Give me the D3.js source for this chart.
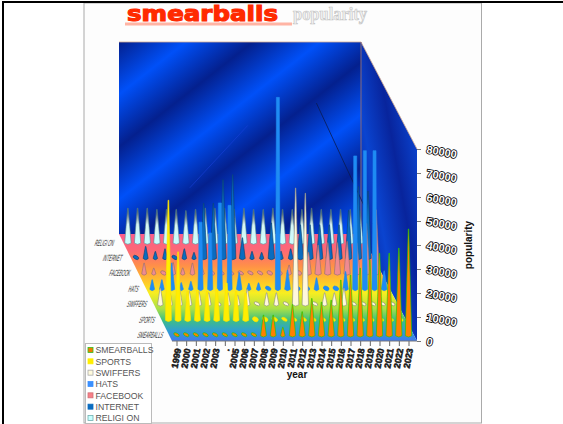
<!DOCTYPE html>
<html>
<head>
<meta charset="utf-8">
<script src="https://cdnjs.cloudflare.com/ajax/libs/d3/7.8.5/d3.min.js"></script>
<style>
  html, body { margin: 0; padding: 0; background: #fff; }
  svg { display: block; font-family: "Liberation Sans", sans-serif; }
</style>
</head>
<body>
<svg width="563" height="424"></svg>
<script>
var width = 563;
var height = 424;

// values
var years = d3.range(1999, 2024);
var yearLabels = ['1999', '2000', '2001', '2002', '2003', '.', '2005', '2006', '2007', '2008', '2009', '2010', '2011', '2012', '2013', '2014', '2015', '2016', '2017', '2018', '2019', '2020', '2021', '2022', '2023'];
var valueTicks = [0, 10000, 20000, 30000, 40000, 50000, 60000, 70000, 80000];

var smearballs = [1500, 1500, 1500, 1500, 1500, 1500, 1500, 1500, 1500, 8600, 8600, 3500, 13000, 10000, 15500, 14000, 14800, 23200, 25300, 28200, 31500, 34400, 34400, 36500, 44500];
var sports = [50000, 28500, 12000, 12500, 12000, 13000, 15500, 12000, 11300, 2200, 2000, 1800, 1500, 1000, 900, 900, 800, 800, 800, 800, 800, 800, 800, 800, 800];
var swiffers = [7000, 5000, 6500, 5500, 5500, 5000, 1500, 5000, 4000, 6500, 1200, 5000, 5000, 1500, 48700, 46500, 1500, 5000, 5000, 7000, 1500, 1300, 1300, 1300, 1200];
var hats = [4000, 4000, 11000, 2800, 3300, 28000, 23500, 36000, 35000, 7000, 2500, 2700, 1800, 80000, 8000, 2200, 2000, 4800, 2000, 2000, 7400, 55600, 57800, 57800, 7700];
var facebook = [4500, 2400, 1800, 4700, 2500, 4500, 2500, 1800, 1500, 1500, 1500, 1500, 1500, 1800, 2000, 3700, 2000, 9000, 12000, 13000, 13000, 13500, 13000, 21000, 26700];
var internet = [1700, 5000, 2900, 4000, 1700, 4000, 2500, 23000, 23000, 32800, 34900, 8600, 2900, 2500, 14800, 3000, 4000, 14000, 14000, 14000, 14000, 14000, 20000, 30000, 28000];
var religion = [14500, 14500, 14500, 14000, 14000, 14000, 13500, 14000, 14500, 14500, 14500, 14000, 14500, 14000, 14000, 14500, 14000, 14000, 14000, 14500, 14000, 14000, 14000, 14000, 13500];

var seriesNames = ['SMEARBALLS', 'SPORTS', 'SWIFFERS', 'HATS', 'FACEBOOK', 'INTERNET', 'RELIGION'];
var legendNames = ['SMEARBALLS', 'SPORTS', 'SWIFFERS', 'HATS', 'FACEBOOK', 'INTERNET', 'RELIGI ON'];
var seriesValues = [smearballs, sports, swiffers, hats, facebook, internet, religion];

// stray traces on the wall, same coordinates as the back row
var darkTrace = [[2018.5, 58300], [2023.4, 15800]];
var faintTrace = [[2005.4, 23000], [2011.4, 49000]];

// colours per series
var fills = ['#ff8000', '#ffee00', '#fff8dc', '#1e8cf4', '#f08a90', '#0a6cc0', 'url(#religionFill)'];
var strokes = ['#10d000', '#ffe000', '#8a8a80', '#1e88f0', '#8f6f70', '#0a3f70', '#5a8a90'];
var swatchFills = ['#f07c00', '#ffee00', '#fffadc', '#3a90ff', '#f88088', '#0a6cc0', '#c8ffff'];
var swatchStrokes = ['#30c020', '#ffee00', '#aaa', '#3a90ff', '#d07078', '#0a6cc0', '#70b0b0'];

// Setup scales ------------------------------------------------------------
var xScale = d3.scaleLinear().domain([1999, 2023]).range([176.5, 408.5]);
var yScale = d3.scaleLinear().domain([0, 80000]).range([341, 149]);
var heightScale = d3.scaleLinear().domain([0, 80000]).range([0, 192]);
// each row further back moves up and to the left
var depthX = d3.scaleLinear().domain([0, 6]).range([0, -48.6]);
var depthY = d3.scaleLinear().domain([0, 6]).range([335.7, 243]);

var svg = d3.select('svg');
var defs = svg.append('defs');

function gradient(id, attrs, stops) {
  var g = defs.append('linearGradient').attr('id', id);
  Object.keys(attrs).forEach(k => g.attr(k, attrs[k]));
  stops.forEach(s => g.append('stop').attr('offset', s[0]).attr('stop-color', s[1]));
}

gradient('wallFill', {gradientUnits: 'userSpaceOnUse', spreadMethod: 'repeat', x1: 119, y1: 42, x2: 170, y2: 107},
  [[0, '#04208e'], [0.5, '#0050f8'], [1, '#04208e']]);
gradient('sideFill', {gradientUnits: 'userSpaceOnUse', spreadMethod: 'repeat', x1: 352, y1: 60, x2: 402, y2: 51},
  [[0, '#0a44d0'], [0.5, '#08249c'], [1, '#0a44d0']]);
gradient('floorFill', {gradientUnits: 'userSpaceOnUse', x1: 0, y1: 234, x2: 0, y2: 341},
  [[0, '#fc5c8c'], [0.16, '#fc6a74'], [0.3, '#ff9048'], [0.45, '#ffc828'], [0.55, '#f8ee20'], [0.7, '#a8e048'], [0.8, '#40c080'], [0.9, '#30a0d0'], [1, '#4078f0']]);
gradient('religionFill', {x1: 0, y1: 1, x2: 0, y2: 0},
  [[0, '#c8ffff'], [0.55, '#d8f4f4'], [0.8, '#808a90'], [1, '#203040']]);

// Page frame --------------------------------------------------------------
svg.append('rect').attr('x', 84).attr('y', 3).attr('width', 397.5).attr('height', 420)
  .attr('fill', '#fdfdfd').attr('stroke', '#aaa');
svg.append('rect').attr('x', 2).attr('y', 1).attr('width', width).attr('height', 2).attr('fill', '#000');
svg.append('rect').attr('x', 2).attr('y', 1).attr('width', 2).attr('height', height).attr('fill', '#000');

// Title -------------------------------------------------------------------
svg.append('rect').attr('x', 125).attr('y', 22.5).attr('width', 167).attr('height', 3).attr('fill', '#ffb4a4');
svg.append('text').text('smearballs').attr('x', 127).attr('y', 21)
  .attr('textLength', 151).attr('lengthAdjust', 'spacingAndGlyphs')
  .attr('font-family', '"DejaVu Sans"').attr('font-weight', 'bold').attr('font-size', 21)
  .attr('fill', '#ff2a00').attr('stroke', '#ff2a00').attr('stroke-width', 1.1);
svg.append('text').text('popularity').attr('x', 293).attr('y', 20)
  .attr('textLength', 74).attr('lengthAdjust', 'spacingAndGlyphs')
  .attr('font-family', '"Liberation Serif"').attr('font-weight', 'bold').attr('font-size', 19)
  .attr('fill', '#f2f2f2').attr('stroke', '#c4c4c4').attr('stroke-width', 0.7);

// Box walls and floor -----------------------------------------------------
var corners = {backTop: [119, 42], rightTop: [361, 42], rightBack: [361, 234], backLeft: [119, 234], frontRightTop: [417, 149], frontRight: [417, 341], frontLeft: [172, 341]};
var line = d3.line();
svg.append('path').attr('d', line([corners.rightTop, corners.frontRightTop, corners.frontRight, corners.rightBack]) + 'Z').attr('fill', 'url(#sideFill)');
svg.append('path').attr('d', line([corners.backTop, corners.rightTop, corners.rightBack, corners.backLeft]) + 'Z').attr('fill', 'url(#wallFill)');
svg.append('path').attr('d', line([corners.backLeft, corners.rightBack, corners.frontRight, corners.frontLeft]) + 'Z').attr('fill', 'url(#floorFill)');
svg.append('path').attr('d', line([corners.backTop, corners.rightTop, corners.frontRightTop]))
  .attr('fill', 'none').attr('stroke', '#d0a890').attr('stroke-width', 0.8);
svg.append('path').attr('d', line([corners.rightTop, corners.rightBack]))
  .attr('fill', 'none').attr('stroke', '#8a6a78').attr('stroke-width', 1);

function px(year, row) { return xScale(year) + depthX(row); }
function py(value, row) { return depthY(row) - heightScale(value); }

var traceLine = d3.line().x(d => px(d[0], 6)).y(d => py(d[1], 6));
svg.append('path').attr('d', traceLine(darkTrace)).attr('fill', 'none').attr('stroke', '#0a1a50').attr('stroke-width', 0.8);
svg.append('path').attr('d', traceLine(faintTrace)).attr('fill', 'none').attr('stroke', '#1a40d8').attr('stroke-width', 0.6);

// Spikes ------------------------------------------------------------------
// low values show as a slanted blob, the rest as a tapered spike
function spikePath(x, base, h, name) {
  var w = Math.min(3.2, 1.9 + h * 0.05);
  var t = 0.25;
  if (name === 'HATS' && h > 40) { w = 2.6; t = 1.5; }
  if (name === 'SPORTS') { w = 3; t = h > 60 ? 0.4 : 0.8; }
  return 'M' + (x - w) + ',' + base +
    'Q' + (x - w * 0.6) + ',' + (base - h * 0.45) + ' ' + (x - t) + ',' + (base - h) +
    'L' + (x + t) + ',' + (base - h) +
    'Q' + (x + w * 0.6) + ',' + (base - h * 0.45) + ' ' + (x + w) + ',' + base +
    'Q' + x + ',' + (base + 2.6) + ' ' + (x - w) + ',' + base + 'Z';
}

d3.range(6, -1, -1).forEach(row => {
  var g = svg.append('g').attr('class', 'row');
  var rowData = seriesValues[row].map((v, i) => ({year: years[i], value: v}));
  var isBlob = d => heightScale(d.value) < 5.5;

  g.selectAll('ellipse').data(rowData.filter(isBlob)).enter().append('ellipse')
    .attr('rx', 3).attr('ry', d => Math.max(1.5, heightScale(d.value) * 0.42))
    .attr('transform', d => 'translate(' + px(d.year, row) + ',' + (depthY(row) - 1) + ') rotate(28)')
    .attr('fill', fills[row] === 'url(#religionFill)' ? '#c8ffff' : fills[row])
    .attr('stroke', strokes[row]).attr('stroke-width', 0.6);

  g.selectAll('path').data(rowData.filter(d => !isBlob(d))).enter().append('path')
    .attr('d', d => spikePath(px(d.year, row), depthY(row), heightScale(d.value), seriesNames[row]))
    .attr('fill', fills[row])
    .attr('stroke', strokes[row]).attr('stroke-width', 0.6);
});

// Row labels, squeezed and slanted
var rowLabelX = d3.scaleLinear().domain([0, 6]).range([162, 113]);
svg.selectAll('text.rowLabel').data(seriesNames).enter().append('text')
  .attr('class', 'rowLabel')
  .text(d => d === 'RELIGION' ? 'RELIGI ON' : d)
  .attr('text-anchor', 'end')
  .attr('font-size', 9).attr('fill', '#333')
  .attr('transform', (d, i) => 'translate(' + rowLabelX(i) + ',' + (depthY(i) + 2.5) + ') skewX(-20) scale(0.42,1)');

// Axes --------------------------------------------------------------------
var xAxis = d3.axisBottom(xScale).tickValues(years).tickSize(5).tickSizeOuter(0)
  .tickFormat((d, i) => yearLabels[i]);
var xG = svg.append('g').attr('transform', 'translate(0,341)').call(xAxis);
xG.select('.domain').remove();
xG.selectAll('line').attr('stroke', '#666');
xG.selectAll('text')
  .attr('x', 0).attr('y', 0).attr('dy', 0)
  .attr('text-anchor', 'end')
  .attr('transform', 'translate(4,8) rotate(-80)')
  .attr('font-family', '"Liberation Sans"').attr('font-weight', 'bold').attr('font-size', 9)
  .attr('fill', '#222').attr('stroke', '#111').attr('stroke-width', 0.5);
svg.append('path').attr('d', line([corners.frontLeft, corners.frontRight])).attr('stroke', '#777').attr('fill', 'none');

var yAxis = d3.axisRight(yScale).tickValues(valueTicks).tickSize(4).tickFormat(d3.format('d'));
var yG = svg.append('g').attr('transform', 'translate(417,0)').call(yAxis);
yG.select('.domain').attr('stroke', 'none');
yG.selectAll('line').attr('stroke', '#777');
yG.selectAll('text')
  .attr('x', 0).attr('dy', 0).attr('y', 0)
  .attr('text-anchor', 'start')
  .attr('transform', 'translate(9,3.5) rotate(10)')
  .attr('font-family', '"Liberation Sans"').attr('font-weight', 'bold').attr('font-size', 11)
  .attr('fill', '#fff').attr('stroke', '#000').attr('stroke-width', 1.6).attr('paint-order', 'stroke');

svg.append('text').text('year').attr('x', 297).attr('y', 378).attr('text-anchor', 'middle')
  .attr('font-weight', 'bold').attr('font-size', 10).attr('fill', '#111');
svg.append('text').text('popularity').attr('text-anchor', 'middle')
  .attr('transform', 'translate(472,245) rotate(-90)')
  .attr('font-weight', 'bold').attr('font-size', 10).attr('fill', '#111');

// Legend ------------------------------------------------------------------
var legendY = d3.scaleLinear().domain([0, 6]).range([350, 418]);
svg.append('rect').attr('x', 85.5).attr('y', 343.5).attr('width', 66).attr('height', 80)
  .attr('fill', '#fff').attr('stroke', '#bbb');
var legend = svg.selectAll('g.legendRow').data(legendNames).enter().append('g').attr('class', 'legendRow')
  .attr('transform', (d, i) => 'translate(88,' + legendY(i) + ')');
legend.append('rect').attr('x', 0).attr('y', -2.5).attr('width', 5).attr('height', 5)
  .attr('fill', (d, i) => swatchFills[i]).attr('stroke', (d, i) => swatchStrokes[i]).attr('stroke-width', 0.8);
legend.append('text').text(d => d).attr('x', 7.5).attr('y', 3.2)
  .attr('font-size', 8.7).attr('fill', '#555');
</script>
</body>
</html>
